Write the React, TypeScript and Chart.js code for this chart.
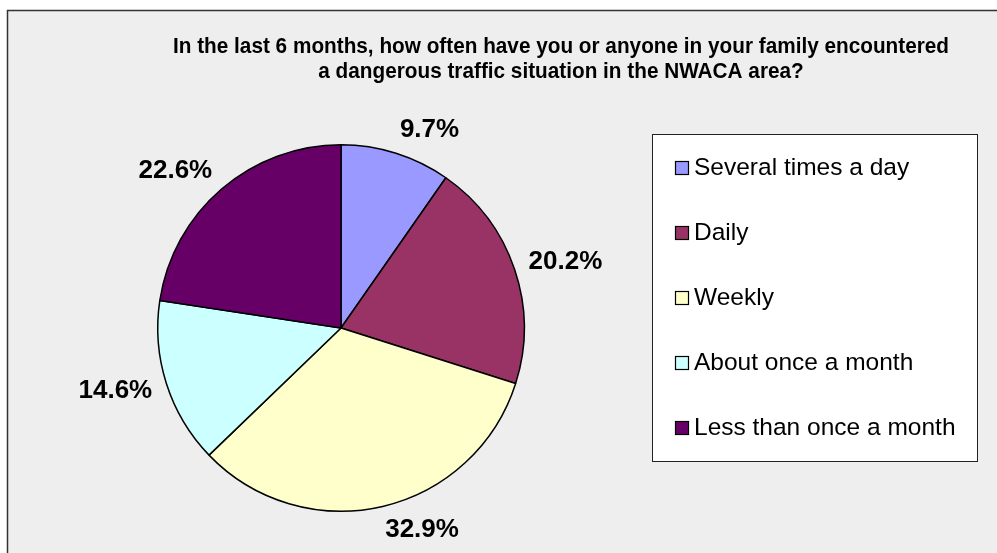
import React, { useEffect, useRef } from 'react';
import { Chart, registerables } from 'chart.js';

Chart.register(...registerables);

const TITLE_LINES = [
  'In the last 6 months, how often have you or anyone in your family encountered',
  'a dangerous traffic situation in the NWACA area?',
];
const CATEGORIES = [
  'Several times a day',
  'Daily',
  'Weekly',
  'About once a month',
  'Less than once a month',
];
const VALUES = [9.7, 20.2, 32.9, 14.6, 22.6];
const COLORS = ['#9999FF', '#993366', '#FFFFCC', '#CCFFFF', '#660066'];

const FONT = '"Liberation Sans", Arial, sans-serif';

const backgroundPlugin = {
  id: 'bgFrame',
  beforeDraw(chart: any) {
    const ctx = chart.ctx;
    ctx.save();
    ctx.fillStyle = '#FFFFFF';
    ctx.fillRect(0, 0, chart.width, chart.height);
    ctx.fillStyle = '#EEEEEE';
    ctx.fillRect(7, 10, chart.width, chart.height);
    ctx.strokeStyle = '#333333';
    ctx.lineWidth = 1.5;
    ctx.beginPath();
    ctx.moveTo(7.5, chart.height + 5);
    ctx.lineTo(7.5, 10.5);
    ctx.lineTo(chart.width + 5, 10.5);
    ctx.stroke();
    ctx.restore();
  },
};

const titlePlugin = {
  id: 'customTitle',
  afterDraw(chart: any) {
    const ctx = chart.ctx;
    ctx.save();
    ctx.font = `bold 21.5px ${FONT}`;
    ctx.fillStyle = '#000000';
    ctx.textAlign = 'center';
    ctx.textBaseline = 'middle';
    const w = ctx.measureText(TITLE_LINES[0]).width;
    const sx = 776 / w;
    TITLE_LINES.forEach((line, i) => {
      ctx.save();
      ctx.translate(561, 47 + i * 25);
      ctx.scale(sx, 1);
      ctx.fillText(line, 0, 0);
      ctx.restore();
    });
    ctx.restore();
  },
};

const labelPlugin = {
  id: 'pctLabels',
  afterDatasetsDraw(chart: any) {
    const ctx = chart.ctx;
    const meta = chart.getDatasetMeta(0);
    ctx.save();
    ctx.font = `bold 26px ${FONT}`;
    ctx.fillStyle = '#000000';
    ctx.textAlign = 'center';
    ctx.textBaseline = 'middle';
    meta.data.forEach((arc: any, i: number) => {
      const p = arc.getProps(['x', 'y', 'startAngle', 'endAngle', 'outerRadius'], true);
      const mid = (p.startAngle + p.endAngle) / 2;
      const ux = Math.cos(mid);
      const uy = Math.sin(mid);
      const text = VALUES[i].toFixed(1) + '%';
      const hw = ctx.measureText(text).width / 2;
      const dist = p.outerRadius + 16;
      const lx = p.x + ux * dist + Math.sign(ux) * hw * 0.97;
      const ly = p.y + uy * (dist + 8);
      ctx.fillText(text, lx, ly);
    });
    ctx.restore();
  },
};

const legendPlugin = {
  id: 'boxLegend',
  afterDraw(chart: any) {
    const ctx = chart.ctx;
    ctx.save();
    ctx.fillStyle = '#FFFFFF';
    ctx.fillRect(652, 134, 325, 327);
    ctx.strokeStyle = '#222222';
    ctx.lineWidth = 1;
    ctx.strokeRect(652.5, 134.5, 325, 327);
    ctx.font = `24.5px ${FONT}`;
    ctx.textAlign = 'left';
    ctx.textBaseline = 'middle';
    CATEGORIES.forEach((cat, i) => {
      const cy = 168 + i * 65;
      ctx.fillStyle = COLORS[i];
      ctx.fillRect(675, cy - 7, 14, 14);
      ctx.strokeStyle = '#000000';
      ctx.lineWidth = 1.2;
      ctx.strokeRect(675.5, cy - 6.5, 13, 13);
      ctx.fillStyle = '#000000';
      ctx.fillText(cat, 694, cy);
    });
    ctx.restore();
  },
};

export default function App() {
  const ref = useRef<HTMLCanvasElement | null>(null);
  useEffect(() => {
    if (!ref.current) return;
    const chart = new Chart(ref.current, {
      type: 'pie',
      data: {
        labels: CATEGORIES,
        datasets: [
          {
            data: VALUES,
            backgroundColor: COLORS,
            borderColor: '#000000',
            borderWidth: 1.5,
          },
        ],
      },
      options: {
        animation: false,
        responsive: false,
        layout: { padding: { left: 157, right: 472, top: 144, bottom: 41 } },
        plugins: {
          legend: { display: false },
          title: { display: false },
          tooltip: { enabled: false },
        },
      },
      plugins: [backgroundPlugin, titlePlugin, labelPlugin, legendPlugin],
    });
    return () => chart.destroy();
  }, []);
  return (
    <div style={{ position: 'fixed', left: 0, top: 0, width: 997, height: 553 }}>
      <canvas ref={ref} width={997} height={553} />
    </div>
  );
}
